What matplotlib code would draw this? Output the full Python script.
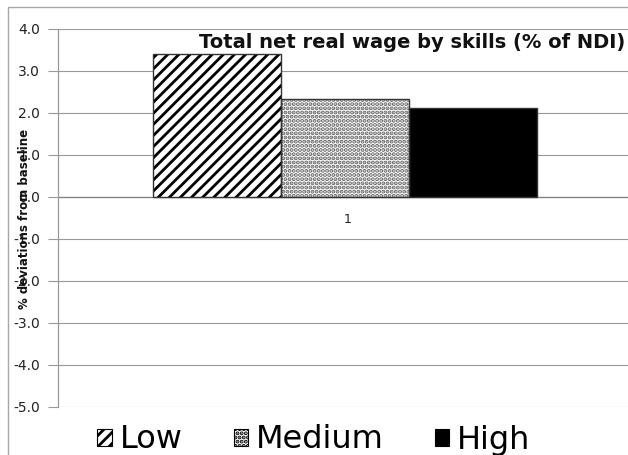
import matplotlib
matplotlib.use("Agg")
import matplotlib.pyplot as plt
from matplotlib.patches import Patch, Rectangle

plt.rcParams['hatch.linewidth'] = 2.0

series = ["Low", "Medium", "High"]
values = [3.40, 2.34, 2.12]
category = ["1"]
yticks = [4.0, 3.0, 2.0, 1.0, 0.0, -1.0, -2.0, -3.0, -4.0, -5.0]
title = "Total net real wage by skills (% of NDI)"
ylabel = "% deviations from baseline"

W, H = 628, 455
fig = plt.figure(figsize=(W / 100, H / 100), dpi=100)

# chart border
fig.add_artist(Rectangle((8 / W, -0.1), 1.2, (H - 7) / H + 0.1, transform=fig.transFigure,
                         fill=False, edgecolor="#a8a8a8", linewidth=1.0))

left, right = 58, 628
top, bottom = 29, 407
ax = fig.add_axes([left / W, (H - bottom) / H, (right - left) / W, (bottom - top) / H])

styles = [
    dict(facecolor="white", hatch="///", edgecolor="black"),
    dict(facecolor="white", hatch="....", edgecolor="#606060"),
    dict(facecolor="black", hatch=None, edgecolor="black"),
]
offsets = [-1, 0, 1]
for off, v, st in zip(offsets, values, styles):
    ax.bar(off, v, width=1.0, facecolor=st["facecolor"], hatch=st["hatch"],
           edgecolor=st["edgecolor"], linewidth=0, zorder=3)
    ax.bar(off, v, width=1.0, fill=False, edgecolor="#333333", linewidth=1.0, zorder=4)

ax.set_ylim(-5, 4)
ax.set_xlim((left - 345) / 128, (right - 345) / 128)
ax.set_yticks(yticks)
ax.set_yticklabels([f"{t:.1f}" for t in yticks], fontsize=10, color="#222222",
                   family="DejaVu Sans")
ax.tick_params(axis="y", length=7, color="#999999", width=0.8, pad=6)
ax.set_xticks([])
ax.text(0.02, -0.38, category[0], ha="center", va="top", fontsize=9, color="#222222",
        transform=ax.transData, zorder=5)

ax.grid(axis="y", color="#999999", linewidth=0.8, zorder=0)
ax.axhline(0, color="#808080", linewidth=0.9, zorder=2)
for s in ["top", "right", "bottom"]:
    ax.spines[s].set_visible(False)
ax.spines["left"].set_color("#999999")
ax.spines["left"].set_linewidth(0.9)

fig.text(625 / W, (H - 42) / H, title, ha="right", va="center",
         fontsize=14, fontweight="bold", family="DejaVu Sans", color="#111111", zorder=6)

fig.text(25 / W, (H - 219) / H, ylabel, rotation=90, ha="center", va="center",
         fontsize=8.5, fontweight="bold", color="#111111", family="DejaVu Sans")

handles = [Patch(facecolor=st["facecolor"], hatch=st["hatch"], edgecolor="black", linewidth=0.8)
           for st in styles]
leg = fig.legend(handles, series, ncol=3, loc="center", bbox_to_anchor=(314 / W, (H - 440) / H),
                 frameon=False, handlelength=0.45, handleheight=0.45,
                 handletextpad=0.25, columnspacing=1.6,
                 prop={"family": "DejaVu Sans", "size": 23})

fig.savefig("out.png", dpi=100)
